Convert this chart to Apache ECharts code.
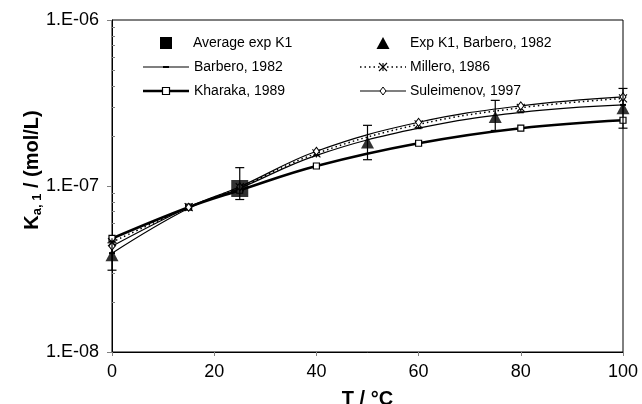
<!DOCTYPE html>
<html><head><meta charset="utf-8">
<script src="https://cdn.jsdelivr.net/npm/echarts@6/dist/echarts.min.js"></script>
<style>html,body{margin:0;padding:0;background:#fff}#c{width:642px;height:404px}</style>
</head><body><div id="c"></div>
<script>
// ---- data ----
const temps = [0, 15, 25, 40, 60, 80, 100];
const barbero    = [3.94e-8, 7.35e-8, 9.69e-8, 1.53e-7, 2.23e-7, 2.78e-7, 3.08e-7];
const millero    = [4.59e-8, 7.45e-8, 9.83e-8, 1.57e-7, 2.35e-7, 2.96e-7, 3.37e-7];
const kharaka    = [4.83e-8, 7.45e-8, 9.43e-8, 1.32e-7, 1.81e-7, 2.23e-7, 2.49e-7];
const suleimenov = [4.34e-8, 7.45e-8, 9.90e-8, 1.62e-7, 2.42e-7, 3.04e-7, 3.44e-7];

const expT  = [0, 50, 75, 100];
const expK  = [3.83e-8, 1.83e-7, 2.60e-7, 2.94e-7];
const expLo = [3.11e-8, 1.44e-7, 2.16e-7, 2.23e-7];
const expHi = [4.55e-8, 2.32e-7, 3.28e-7, 3.87e-7];

const avgT  = [25];
const avgK  = [9.66e-8];
const avgLo = [8.29e-8];
const avgHi = [1.29e-7];

const xTicks = [0, 20, 40, 60, 80, 100];
const yTickLabels = ['1.E-08', '1.E-07', '1.E-06'];
const yMinorTicks = [2e-8, 3e-8, 4e-8, 5e-8, 6e-8, 7e-8, 8e-8, 9e-8,
                     2e-7, 3e-7, 4e-7, 5e-7, 6e-7, 7e-7, 8e-7, 9e-7];

const legendNames = ['Average exp K1', 'Exp K1, Barbero, 1982', 'Barbero, 1982',
                     'Millero, 1986', 'Kharaka, 1989', 'Suleimenov, 1997'];

// ---- chart ----
const FONT = '"Liberation Sans", Arial, sans-serif';
const zip = (xs, ys) => xs.map((x, i) => [x, ys[i]]);
const errData = zip(expT, expLo).map((p, i) => [p[0], p[1], expHi[i]])
  .concat(zip(avgT, avgLo).map((p, i) => [p[0], p[1], avgHi[i]]));

const chart = echarts.init(document.getElementById('c'), null, {renderer: 'canvas'});

const legendGraphics = [];
function legendText(x, y, t) {
  legendGraphics.push({type: 'text', x: x, y: y, z: 10,
    style: {text: t, fontSize: 14, fontFamily: FONT, fill: '#000', verticalAlign: 'middle', align: 'left'}});
}
const LX = 143, LW = 46, RX = 360;
const rows = [43, 67, 91];
// row 1
legendGraphics.push({type: 'rect', z: 10, shape: {x: LX + LW / 2 - 6, y: rows[0] - 6, width: 12, height: 12}, style: {fill: '#000'}});
legendText(193, rows[0], legendNames[0]);
legendGraphics.push({type: 'polygon', z: 10, shape: {points: [[RX + LW / 2, rows[0] - 6], [RX + LW / 2 + 6.5, rows[0] + 6], [RX + LW / 2 - 6.5, rows[0] + 6]]}, style: {fill: '#000'}});
legendText(410, rows[0], legendNames[1]);
// row 2
legendGraphics.push({type: 'line', z: 10, shape: {x1: LX, y1: rows[1], x2: LX + LW, y2: rows[1]}, style: {stroke: '#000', lineWidth: 1.2}});
legendGraphics.push({type: 'rect', z: 10, shape: {x: LX + LW / 2 - 3, y: rows[1] - 1, width: 6, height: 2}, style: {fill: '#000'}});
legendText(194, rows[1], legendNames[2]);
legendGraphics.push({type: 'line', z: 10, shape: {x1: RX, y1: rows[1], x2: RX + LW, y2: rows[1]}, style: {stroke: '#000', lineWidth: 1.5, lineDash: [1.5, 3]}});
const ax = RX + LW / 2, ay = rows[1];
[[ax - 4, ay - 4, ax + 4, ay + 4], [ax + 4, ay - 4, ax - 4, ay + 4], [ax, ay - 4, ax, ay + 4]].forEach(s => {
  legendGraphics.push({type: 'line', z: 11, shape: {x1: s[0], y1: s[1], x2: s[2], y2: s[3]}, style: {stroke: '#000', lineWidth: 1.1}});
});
legendText(410, rows[1], legendNames[3]);
// row 3
legendGraphics.push({type: 'line', z: 10, shape: {x1: LX, y1: rows[2], x2: LX + LW, y2: rows[2]}, style: {stroke: '#000', lineWidth: 2.6}});
legendGraphics.push({type: 'rect', z: 11, shape: {x: LX + LW / 2 - 3.5, y: rows[2] - 3.5, width: 7, height: 7}, style: {fill: '#fff', stroke: '#000', lineWidth: 1.2}});
legendText(194, rows[2], legendNames[4]);
legendGraphics.push({type: 'line', z: 10, shape: {x1: RX, y1: rows[2], x2: RX + LW, y2: rows[2]}, style: {stroke: '#000', lineWidth: 1.2}});
legendGraphics.push({type: 'polygon', z: 11, shape: {points: [[ax, rows[2] - 4], [ax + 3, rows[2]], [ax, rows[2] + 4], [ax - 3, rows[2]]]}, style: {fill: '#fff', stroke: '#000', lineWidth: 1}});
legendText(410, rows[2], legendNames[5]);

// y-axis title
legendGraphics.push({
  type: 'text', x: 32, y: 170, rotation: Math.PI / 2, z: 10,
  style: {
    text: '{k|K}{s|a, 1}{k| / (mol/L)}',
    align: 'center', verticalAlign: 'middle', fill: '#000',
    rich: {
      k: {fontSize: 20, fontWeight: 'bold', fontFamily: FONT, fill: '#000', lineHeight: 24},
      s: {fontSize: 13, fontWeight: 'bold', fontFamily: FONT, fill: '#000', lineHeight: 24, verticalAlign: 'bottom'}
    }
  }
});

const option = {
  animation: false,
  backgroundColor: '#fff',
  grid: {left: 112, right: 19, top: 20, bottom: 52, show: true, borderColor: '#000', borderWidth: 1,
         backgroundColor: 'transparent', containLabel: false, outerBoundsMode: 'none'},
  xAxis: {
    type: 'value', min: 0, max: 100, interval: 20,
    axisLine: {lineStyle: {color: '#000', width: 1}},
    axisTick: {show: true, length: 4, lineStyle: {color: '#808080'}, customValues: xTicks},
    axisLabel: {fontSize: 18, color: '#000', fontFamily: FONT, margin: 11, customValues: xTicks},
    splitLine: {show: false},
    name: 'T / °C', nameLocation: 'middle', nameGap: 37,
    nameTextStyle: {fontSize: 20, fontWeight: 'bold', color: '#000', fontFamily: FONT}
  },
  yAxis: [{
    type: 'log', logBase: 10, min: 1e-8, max: 1e-6,
    axisLine: {show: true, lineStyle: {color: '#000', width: 1}},
    axisTick: {show: true, length: 5, lineStyle: {color: '#808080'}},
    axisLabel: {fontSize: 18, color: '#000', fontFamily: FONT, margin: 13,
      formatter: v => yTickLabels[Math.round(Math.log10(v)) + 8]},
    splitLine: {show: false}
  }, {
    type: 'log', logBase: 10, min: 1e-8, max: 1e-6, position: 'left',
    axisLine: {show: false},
    axisTick: {show: true, inside: true, length: 3, lineStyle: {color: '#808080'}, customValues: yMinorTicks},
    axisLabel: {show: false},
    splitLine: {show: false}
  }],
  graphic: legendGraphics,
  series: [
    {
      name: legendNames[4], type: 'line', smooth: 0.4, clip: false, z: 3,
      data: zip(temps, kharaka),
      symbol: 'rect', symbolSize: 6,
      itemStyle: {color: '#fff', borderColor: '#000', borderWidth: 1.2},
      lineStyle: {color: '#000', width: 2.6}
    },
    {
      name: legendNames[2], type: 'line', smooth: 0.4, clip: false, z: 3,
      data: zip(temps, barbero),
      symbol: 'rect', symbolSize: [6, 2],
      itemStyle: {color: '#000'},
      lineStyle: {color: '#000', width: 1.2}
    },
    {
      name: legendNames[3], type: 'line', smooth: 0.4, clip: false, z: 3,
      data: zip(temps, millero),
      symbol: 'path://M0,0L10,10M10,0L0,10M5,0L5,10', symbolSize: 8,
      itemStyle: {color: 'transparent', borderColor: '#000', borderWidth: 1.1},
      lineStyle: {color: '#000', width: 1.5, type: [1.5, 3]}
    },
    {
      name: legendNames[5], type: 'line', smooth: 0.4, clip: false, z: 3,
      data: zip(temps, suleimenov),
      symbol: 'diamond', symbolSize: [6, 8],
      itemStyle: {color: '#fff', borderColor: '#000', borderWidth: 1},
      lineStyle: {color: '#000', width: 1.2}
    },
    {
      name: 'error bars', type: 'custom', z: 4, clip: false,
      data: errData,
      encode: {x: 0, y: [1, 2]},
      renderItem: function (params, api) {
        const x = api.value(0);
        const lo = api.coord([x, api.value(1)]);
        const hi = api.coord([x, api.value(2)]);
        const w = 4.5;
        const st = {stroke: '#000', lineWidth: 1.2};
        return {type: 'group', children: [
          {type: 'line', shape: {x1: hi[0], y1: hi[1], x2: lo[0], y2: lo[1]}, style: st},
          {type: 'line', shape: {x1: hi[0] - w, y1: hi[1], x2: hi[0] + w, y2: hi[1]}, style: st},
          {type: 'line', shape: {x1: lo[0] - w, y1: lo[1], x2: lo[0] + w, y2: lo[1]}, style: st}
        ]};
      }
    },
    {
      name: legendNames[1], type: 'scatter', clip: false, z: 5,
      data: zip(expT, expK),
      symbol: 'triangle', symbolSize: [13, 12],
      itemStyle: {color: '#000'}
    },
    {
      name: legendNames[0], type: 'scatter', clip: false, z: 6,
      data: zip(avgT, avgK),
      symbol: 'rect', symbolSize: 17,
      itemStyle: {color: '#000'}
    }
  ]
};
chart.setOption(option);
</script>
</body></html>
